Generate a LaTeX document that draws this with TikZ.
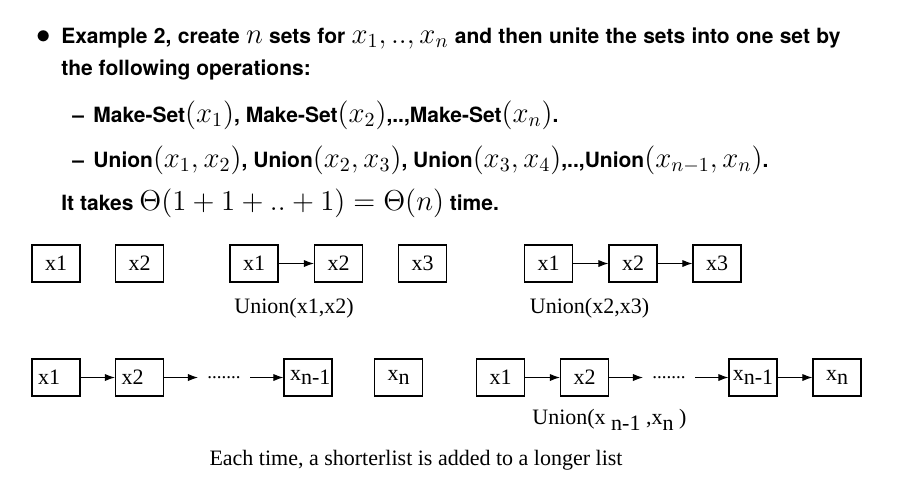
\documentclass[tikz,border=0pt]{standalone}
\usepackage[no-math]{fontspec}
\setmainfont{Liberation Serif}
\newfontfamily\slidefont[Ligatures=TeX]{TeX Gyre Heros}
\newcommand{\mth}[1]{{\fontsize{14.7}{16}\selectfont$#1$}}
\usepackage{tikz}
\usetikzlibrary{arrows.meta}

\begin{document}
\begin{tikzpicture}[x=0.5pt,y=-0.5pt,
    setbox/.style={draw, line width=0.6pt, minimum width=24pt, minimum height=18.5pt, inner sep=0pt, font=\fontsize{11}{13}\selectfont},
    leftbox/.style={setbox, text width=18pt, inner xsep=3pt, align=left},
    link/.style={-{Latex[length=5pt,width=3.6pt]}, line width=0.5pt},
    gap/.style={inner xsep=4.5pt, inner ysep=0pt, font=\fontsize{9.5}{11}\selectfont},
    slide/.style={anchor=base west, inner sep=0pt, font=\slidefont\bfseries\fontsize{10.5}{12}\selectfont},
    caption/.style={inner sep=0pt, font=\fontsize{11}{13}\selectfont}]
        \useasboundingbox (0,0) rectangle (924,495);

        % slide text
        \node[slide] (bul) at (36,43) {\mth{\bullet}};
        \node[slide] (l1) at (61,43) {\makebox[389.5pt][s]{Example 2, create \mth{n} sets for \mth{x_1,..,x_n} and then unite the sets into one set by}};
        \node[slide] (l2) at (61,75) {the following operations:};
        \node[slide] (d1) at (72,122) {–};
        \node[slide] (l3) at (93,122) {Make-Set\mth{(x_1)}, Make-Set\mth{(x_2)},..,Make-Set\mth{(x_n)}.};
        \node[slide] (d2) at (72,167) {–};
        \node[slide] (l4) at (93,167) {Union\mth{(x_1,x_2)}, Union\mth{(x_2,x_3)}, Union\mth{(x_3,x_4)},..,Union\mth{(x_{n-1},x_n)}.};
        \node[slide] (l5) at (61,210) {It takes \mth{\Theta(1+1+..+1)=\Theta(n)} time.};

        % first row
        \node[setbox] (a1) at (56,263.5) {x1};
        \node[setbox] (a2) at (139.5,263.5) {x2};

        \node[setbox] (b1) at (254,263.5) {x1};
        \node[setbox] (b2) at (338.5,263.5) {x2};
        \node[setbox] (b3) at (422.5,263.5) {x3};
        \draw[link] (b1) -- (b2);
        \node[caption, anchor=base] (ub) at (294,313) {Union(x1,x2)};

        \node[setbox] (c1) at (548.5,263.5) {x1};
        \node[setbox] (c2) at (633,263.5) {x2};
        \node[setbox] (c3) at (717,263.5) {x3};
        \draw[link] (c1) -- (c2);
        \draw[link] (c2) -- (c3);
        \node[caption, anchor=base] (uc) at (589.5,313) {Union(x2,x3)};

        % second row
        \node[leftbox] (p1) at (56,377.5) {x1};
        \node[leftbox] (p2) at (139.5,377.5) {x2};
        \node[gap] (pd) at (224,377.5) {.......};
        \node[leftbox] (pm) at (308,377.5) {x\raisebox{-2pt}{n-1}};
        \node[setbox] (pn) at (398.5,377.5) {x\raisebox{-2pt}{n}};
        \draw[link] (p1) -- (p2);
        \draw[link] (p2) -- (pd);
        \draw[link] (pd) -- (pm);

        \node[setbox] (q1) at (500.5,377.5) {x1};
        \node[setbox] (q2) at (584.5,377.5) {x2};
        \node[gap] (qd) at (669,377.5) {.......};
        \node[setbox] (qm) at (753,377.5) {x\raisebox{-2pt}{n-1}};
        \node[setbox] (qn) at (837,377.5) {x\raisebox{-2pt}{n}};
        \draw[link] (q1) -- (q2);
        \draw[link] (q2) -- (qd);
        \draw[link] (qd) -- (qm);
        \draw[link] (qm) -- (qn);
        \node[caption, anchor=base west] (uq) at (532,424) {Union(x \raisebox{-3pt}{n-1} ,x\raisebox{-3pt}{n} )};

        \node[caption, anchor=base] (note) at (416,465) {Each time, a shorterlist is added to a longer list};
    \end{tikzpicture}
\end{document}
